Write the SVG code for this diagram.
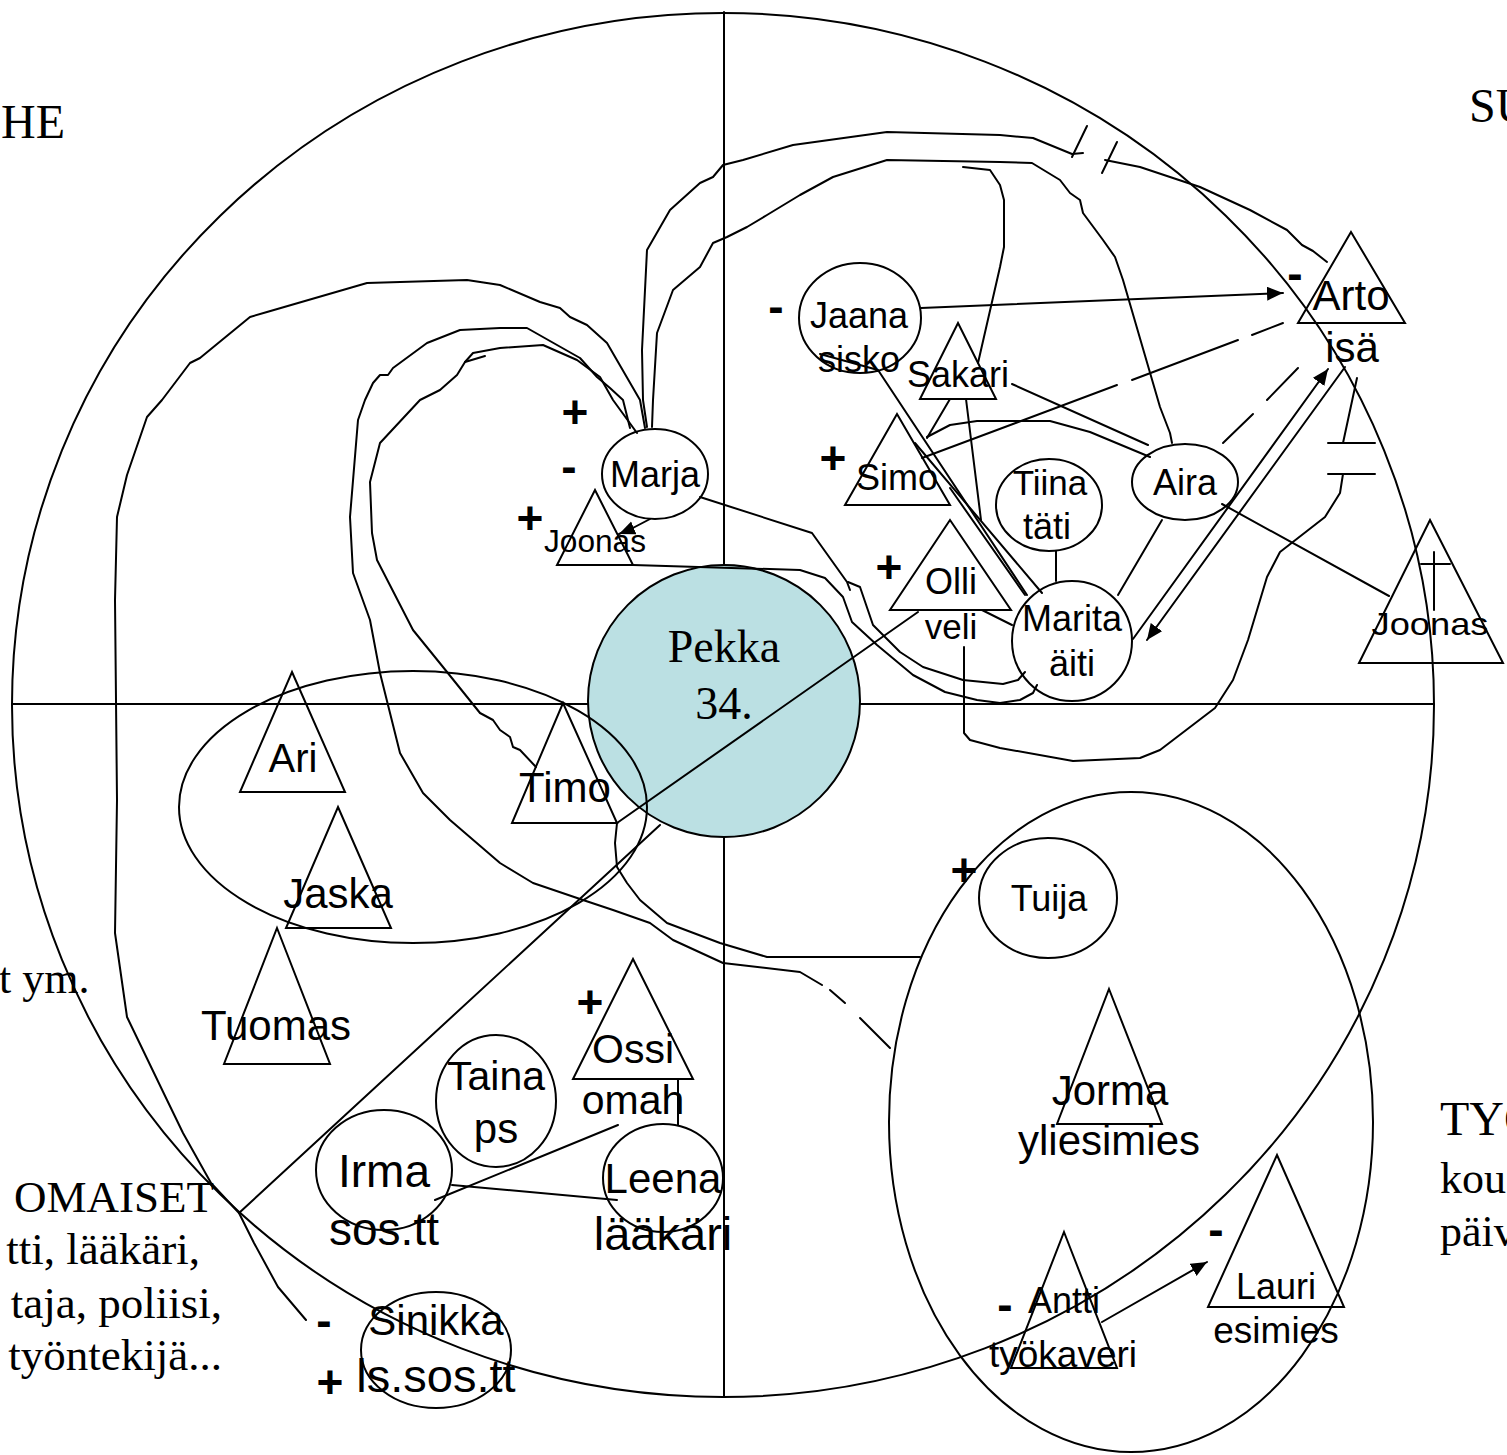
<svg xmlns="http://www.w3.org/2000/svg" width="1507" height="1455" viewBox="0 0 1507 1455">
<style>
.ln{fill:none;stroke:#000;stroke-width:2;stroke-linejoin:round;stroke-linecap:round}
.nd{fill:none;stroke:#000;stroke-width:2}
.lb{font-family:"Liberation Sans",Arial,sans-serif;text-anchor:middle;fill:#000}
.sr{font-family:"Liberation Serif","Times New Roman",serif;fill:#000}
.sg{font-family:"Liberation Sans",Arial,sans-serif;font-weight:bold;text-anchor:middle;font-size:46px;fill:#000}
</style>
<defs>
<marker id="arr" markerUnits="userSpaceOnUse" markerWidth="18" markerHeight="16" refX="16" refY="7" orient="auto">
<path d="M0,0 L16,7 L0,14 z" fill="#000"/>
</marker>
</defs>
<rect width="1507" height="1455" fill="#fff"/>

<g id="frame">
<ellipse class="nd" cx="723" cy="705" rx="711" ry="692"/>
<line class="ln" x1="724" y1="12" x2="724" y2="1397"/>
<line class="ln" x1="12" y1="704" x2="1434" y2="704"/>
</g>

<g id="headings">
<text class="sr" x="1" y="138" font-size="48">HE</text>
<text class="sr" x="1469" y="122" font-size="48">SU</text>
<text class="sr" x="-1" y="993" font-size="44">t ym.</text>
<text class="sr" x="214" y="1212" font-size="45" text-anchor="end">OMAISET</text>
<text class="sr" x="200" y="1264" font-size="45" text-anchor="end">tti, lääkäri,</text>
<text class="sr" x="222" y="1318" font-size="45" text-anchor="end">taja, poliisi,</text>
<text class="sr" x="222" y="1370" font-size="45" text-anchor="end">työntekijä...</text>
<text class="sr" x="1440" y="1135" font-size="48">TYÖ</text>
<text class="sr" x="1440" y="1193" font-size="44">kou</text>
<text class="sr" x="1440" y="1246" font-size="44">päiv</text>
</g>

<g id="pekka">
<circle cx="724" cy="701" r="136" fill="#bbe0e3" stroke="#000" stroke-width="2"/>
<text class="sr" x="724" y="662" font-size="46" text-anchor="middle">Pekka</text>
<text class="sr" x="724" y="719" font-size="46" text-anchor="middle">34.</text>
</g>

<g id="connectors">
<path class="ln" d="M650,519 Q636,527 619,534" marker-end="url(#arr)"/>
<polyline class="ln" points="700,497 812,533 822,547 847,582 850,590"/>
<polyline class="ln" points="848,582 860,587 873,625 900,652 923,667 963,680 1003,684 1018,680 1025,672"/>
<polyline class="ln" points="633,565 800,570 825,578 843,597 852,622 877,645 913,675 945,692 977,700 1000,703 1020,700 1033,693 1037,685"/>
<polyline class="ln" points="645,428 640,400 607,343 587,325 570,317 560,308 540,302 500,285 467,280 367,283 267,312 250,317 200,358 190,363 162,400 147,417 127,475 117,517 115,600 117,800 115,933 127,1017 167,1100 183,1133 211,1183 239,1213 254,1243 278,1287 306,1320"/>
<polyline class="ln" points="630,428 623,400 610,388 597,377 580,358 527,328 500,328 460,330 427,343 393,368 388,375 380,375 373,383 365,400 358,420 350,517 353,573 370,620 380,673 400,753 423,793 450,820 500,863 533,883 583,900 613,910 650,923 673,940 723,963 800,972 822,985"/>
<line class="ln" x1="830" y1="990" x2="845" y2="1003"/>
<line class="ln" x1="860" y1="1018" x2="890" y2="1048"/>
<polyline class="ln" points="637,433 613,400 600,377 577,360 543,345 500,348 473,353 465,362 457,375 440,390 420,400 380,443 370,482 372,533 377,560 413,630 443,667 480,713 493,720 500,730 510,737 513,747 520,750 536,767"/>
<line class="ln" x1="465" y1="362" x2="485" y2="356"/>
<polyline class="ln" points="647,427 643,400 642,350 647,250 670,210 700,183 713,177 723,165 743,160 793,145 887,132 1000,135 1033,138 1072,154 1083,153"/>
<polyline class="ln" points="1105,160 1140,167 1200,187 1250,210 1287,230 1302,245 1313,251 1327,262"/>
<line class="ln" x1="1087" y1="126" x2="1072" y2="157"/>
<line class="ln" x1="1117" y1="142" x2="1102" y2="173"/>
<polyline class="ln" points="652,427 653,400 657,333 673,290 700,267 713,243 727,237 747,227 767,215 800,195 833,177 887,160 1000,162 1032,163 1060,180 1070,193 1080,200 1083,213 1103,240 1115,257 1123,280 1160,407 1170,433 1172,443"/>
<polyline class="ln" points="963,167 990,170 1000,185 1004,200 1004,247 1000,267 978,363"/>
<polyline class="ln" points="927,437 950,425 977,421 1050,421 1090,432 1150,457"/>
<polyline class="ln" points="964,647 964,733 970,740 1000,748 1073,761 1140,758 1160,750 1215,708 1233,680 1248,640 1267,577 1280,552 1325,517 1340,493 1343,474"/>
<line class="ln" x1="1328" y1="474" x2="1375" y2="474"/>
<line class="ln" x1="1328" y1="443" x2="1375" y2="443"/>
<line class="ln" x1="1343" y1="443" x2="1357" y2="378"/>
<line class="ln" x1="918" y1="612" x2="617" y2="823"/>
<line class="ln" x1="660" y1="825" x2="239" y2="1213"/>
<line class="ln" x1="921" y1="308" x2="1283" y2="293" marker-end="url(#arr)"/>
<line class="ln" x1="922" y1="458" x2="1117" y2="385"/>
<line class="ln" x1="1132" y1="380" x2="1238" y2="340"/>
<line class="ln" x1="1252" y1="335" x2="1283" y2="323"/>
<line class="ln" x1="1223" y1="443" x2="1253" y2="414"/>
<line class="ln" x1="1267" y1="400" x2="1298" y2="368"/>
<line class="ln" x1="1133" y1="639" x2="1328" y2="369" marker-end="url(#arr)"/>
<line class="ln" x1="1345" y1="367" x2="1147" y2="640" marker-end="url(#arr)"/>
<line class="ln" x1="1222" y1="504" x2="1389" y2="596"/>
<line class="ln" x1="1012" y1="384" x2="1148" y2="445"/>
<line class="ln" x1="927" y1="438" x2="950" y2="399"/>
<line class="ln" x1="966" y1="399" x2="981" y2="520"/>
<polyline class="ln" points="820,354 878,370 1027,595"/>
<line class="ln" x1="915" y1="443" x2="1042" y2="593"/>
<line class="ln" x1="950" y1="488" x2="1025" y2="595"/>
<line class="ln" x1="1056" y1="551" x2="1056" y2="581"/>
<line class="ln" x1="1162" y1="520" x2="1118" y2="595"/>
<line class="ln" x1="982" y1="610" x2="1012" y2="625"/>
<polyline class="ln" points="617,823 615,843 617,867 627,883 640,900 667,923 720,943 767,957 920,957"/>
<line class="ln" x1="678" y1="1079" x2="678" y2="1125"/>
<line class="ln" x1="452" y1="1185" x2="617" y2="1200"/>
<line class="ln" x1="618" y1="1125" x2="435" y2="1200"/>
<line class="ln" x1="1102" y1="1322" x2="1207" y2="1262" marker-end="url(#arr)"/>
</g>

<g id="group-friends"><ellipse class="nd" cx="413" cy="807" rx="234" ry="136"/></g>
<g id="group-work"><ellipse class="nd" cx="1131" cy="1122" rx="242" ry="330"/></g>

<g id="marja"><ellipse class="nd" cx="655" cy="474" rx="53" ry="45"/><text class="lb" x="655" y="487" font-size="36">Marja</text></g>
<g id="joonas-left"><polygon class="nd" points="595,490 633,565 557,565"/><text class="lb" x="595" y="552" font-size="31" textLength="102" lengthAdjust="spacingAndGlyphs">Joonas</text></g>
<g id="jaana"><ellipse class="nd" cx="860" cy="318" rx="61" ry="55"/><text class="lb" x="859" y="328" font-size="36">Jaana</text><text class="lb" x="859" y="372" font-size="36">sisko</text></g>
<g id="sakari"><polygon class="nd" points="958,323 996,399 920,399"/><text class="lb" x="958" y="387" font-size="36">Sakari</text></g>
<g id="simo"><polygon class="nd" points="897,414 950,505 845,505"/><text class="lb" x="897" y="490" font-size="36">Simo</text></g>
<g id="olli"><polygon class="nd" points="950,520 1011,610 890,610"/><text class="lb" x="951" y="594" font-size="36">Olli</text><text class="lb" x="951" y="639" font-size="35">veli</text></g>
<g id="tiina"><ellipse class="nd" cx="1049" cy="505" rx="53" ry="46"/><text class="lb" x="1050" y="495" font-size="35">Tiina</text><text class="lb" x="1047" y="539" font-size="36">täti</text></g>
<g id="aira"><ellipse class="nd" cx="1185" cy="482" rx="53" ry="38"/><text class="lb" x="1185" y="495" font-size="36">Aira</text></g>
<g id="marita"><circle class="nd" cx="1072" cy="641" r="60"/><text class="lb" x="1072" y="631" font-size="36">Marita</text><text class="lb" x="1072" y="676" font-size="36">äiti</text></g>
<g id="arto"><polygon class="nd" points="1351,232 1405,323 1298,323"/><text class="lb" x="1351" y="310" font-size="42">Arto</text><text class="lb" x="1352" y="362" font-size="42">isä</text></g>
<g id="joonas-right"><polygon class="nd" points="1430,520 1503,663 1359,663"/><line class="ln" x1="1434" y1="552" x2="1434" y2="610" stroke-width="3"/><line class="ln" x1="1421" y1="564" x2="1450" y2="564" stroke-width="3"/><text class="lb" x="1430" y="635" font-size="32" textLength="117" lengthAdjust="spacingAndGlyphs">Joonas</text></g>
<g id="ari"><polygon class="nd" points="292,672 345,792 240,792"/><text class="lb" x="293" y="772" font-size="40">Ari</text></g>
<g id="jaska"><polygon class="nd" points="338,807 391,928 286,928"/><text class="lb" x="338" y="908" font-size="42">Jaska</text></g>
<g id="tuomas"><polygon class="nd" points="277,928 330,1064 224,1064"/><text class="lb" x="276" y="1040" font-size="42">Tuomas</text></g>
<g id="timo"><polygon class="nd" points="563,703 617,823 512,823"/><text class="lb" x="565" y="802" font-size="42">Timo</text></g>
<g id="taina"><ellipse class="nd" cx="496" cy="1101" rx="60" ry="66"/><text class="lb" x="496" y="1090" font-size="41">Taina</text><text class="lb" x="496" y="1143" font-size="42">ps</text></g>
<g id="ossi"><polygon class="nd" points="633,959 693,1079 573,1079"/><text class="lb" x="633" y="1063" font-size="41">Ossi</text><text class="lb" x="633" y="1114" font-size="41">omah</text></g>
<g id="irma"><ellipse class="nd" cx="384" cy="1170" rx="68" ry="60"/><text class="lb" x="384" y="1187" font-size="46">Irma</text><text class="lb" x="384" y="1245" font-size="46">sos.tt</text></g>
<g id="leena"><ellipse class="nd" cx="663" cy="1178" rx="60" ry="54"/><text class="lb" x="663" y="1193" font-size="42">Leena</text><text class="lb" x="663" y="1250" font-size="47">lääkäri</text></g>
<g id="sinikka"><ellipse class="nd" cx="436" cy="1350" rx="75" ry="58"/><text class="lb" x="436" y="1335" font-size="42">Sinikka</text><text class="lb" x="436" y="1392" font-size="47">ls.sos.tt</text></g>
<g id="tuija"><ellipse class="nd" cx="1048" cy="898" rx="69" ry="60"/><text class="lb" x="1049" y="911" font-size="36">Tuija</text></g>
<g id="jorma"><polygon class="nd" points="1109,989 1162,1124 1057,1124"/><text class="lb" x="1110" y="1105" font-size="42">Jorma</text><text class="lb" x="1109" y="1155" font-size="42">yliesimies</text></g>
<g id="antti"><polygon class="nd" points="1064,1232 1117,1368 1011,1368"/><text class="lb" x="1064" y="1313" font-size="36">Antti</text><text class="lb" x="1063" y="1367" font-size="37">työkaveri</text></g>
<g id="lauri"><polygon class="nd" points="1277,1155 1344,1307 1208,1307"/><text class="lb" x="1276" y="1299" font-size="36">Lauri</text><text class="lb" x="1276" y="1343" font-size="37">esimies</text></g>

<g id="signs">
<text class="sg" x="575" y="428">+</text>
<text class="sg" x="569" y="482">-</text>
<text class="sg" x="530" y="534">+</text>
<text class="sg" x="833" y="474">+</text>
<text class="sg" x="889" y="583">+</text>
<text class="sg" x="776" y="322">-</text>
<text class="sg" x="1295" y="289">-</text>
<text class="sg" x="964" y="886">+</text>
<text class="sg" x="590" y="1018">+</text>
<text class="sg" x="324" y="1336">-</text>
<text class="sg" x="330" y="1398">+</text>
<text class="sg" x="1005" y="1320">-</text>
<text class="sg" x="1216" y="1245">-</text>
</g>
</svg>
